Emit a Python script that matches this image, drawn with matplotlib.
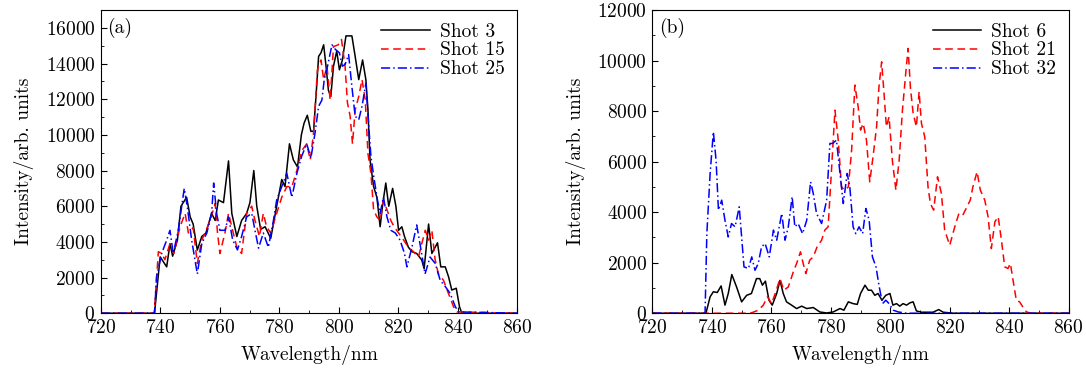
import matplotlib
matplotlib.use("Agg")
import matplotlib.pyplot as plt
from matplotlib.ticker import MultipleLocator

plt.rcParams["font.family"] = "serif"
plt.rcParams["font.serif"] = ["cmr10", "DejaVu Serif"]
plt.rcParams["axes.formatter.use_mathtext"] = True
plt.rcParams["mathtext.fontset"] = "cm"

# ---- panel (a) ----
wl_a3 = [720, 738, 739.9, 742.1, 743.2, 744.1, 745.7, 746.9, 748.8, 750, 751, 752.4, 753.9, 755.3,
         757.2, 758.4, 759.5, 761.2, 762.9, 764, 765.7, 767.3, 769, 770.1, 771.4, 772.4, 773.7,
         775.2, 777.1, 779.1, 780.8, 781.9, 783.4, 784.7, 786.1, 787.4, 788.3, 789.4, 790.6, 791.5,
         792.4, 793.2, 794, 794.9, 795.7, 796.5, 797.3, 798.2, 799.3, 800.2, 801.2, 802.4, 804.4,
         805.5, 806.7, 808, 809.1, 809.8, 810.5, 811.7, 812.8, 813.9, 814.8, 815.8, 816.8, 818.1,
         819.2, 820.1, 821.2, 822.1, 823.4, 824.6, 826.2, 827.9, 828.7, 830.2, 831.3, 833.2, 834.3,
         835.8, 836.9, 838, 839.5, 840.6, 841.4, 860]
shot3 = [0, 0, 3160, 2600, 3900, 3200, 4100, 6000, 6500, 5400, 5000, 3540, 4300, 4500,
         5600, 5200, 6350, 6200, 8540, 5600, 4300, 5200, 5600, 6200, 8000, 6000, 4700,
         4850, 4200, 6000, 7500, 7100, 9500, 8600, 8200, 10000, 10650, 11100, 10200, 10200,
         12350, 14400, 14600, 15050, 13850, 12500, 12150, 13850, 14700, 13650, 14200, 15550, 15550,
         14400, 13100, 14200, 13100, 11400, 8600, 7100, 6500, 4850, 6150, 7300, 6000, 7000,
         6000, 4650, 4850, 4300, 3700, 3450, 3350, 2980, 2500, 5000, 3350, 3950, 2600,
         2600, 2050, 1300, 1400, 360, 0, 0]

wl_a15 = [720, 737.9, 739.3, 740.4, 741.5, 743.2, 744.5, 746.6, 748.3, 749.4, 751, 752.4, 753.9,
          755, 756.7, 758.4, 759.2, 760, 761.7, 762.9, 764.5, 765.7, 767.3, 769, 770.7, 771.8,
          773.3, 774.6, 775.7, 777.1, 779.1, 780.8, 782.5, 784.2, 785.9, 787.5, 789.2, 790.4,
          791.5, 792.8, 794, 794.9, 796, 797.1, 798.2, 799.8, 800.9, 802.1, 802.9, 803.8, 804.6,
          805.5, 806.7, 807.8, 808.9, 809.8, 810.8, 811.7, 812.8, 813.9, 815, 816.2, 817.5,
          818.6, 820.1, 821.8, 823.4, 825.1, 826.8, 827.9, 829.1, 830.2, 831.3, 832.4, 833.5,
          835.2, 836.9, 838.6, 839.7, 860]
shot15 = [0, 0, 3450, 3350, 3000, 3900, 3350, 4850, 5600, 4500, 4800, 2800, 4100,
          4500, 5200, 6150, 4500, 3350, 4500, 5600, 4500, 3700, 3350, 5600, 6000, 5200,
          4300, 5600, 4850, 4500, 5600, 6500, 7100, 7100, 8000, 9100, 9500, 8600,
          10100, 13650, 14200, 13100, 13850, 11950, 14950, 15050, 15350, 13850, 11800, 11050, 9500,
          11400, 12150, 13100, 11950, 8950, 7850, 5800, 5400, 5200, 6350, 5800, 5200,
          4850, 4500, 4100, 3700, 3450, 3150, 3900, 4650, 4100, 4650, 3000, 2200,
          1850, 1100, 360, 75, 0]

wl_a25 = [720, 738, 738.7, 740.4, 742.1, 743.2, 744.3, 746, 748, 749, 750.5, 752.4, 753.9, 755.6,
          757.2, 757.9, 758.9, 760, 761.7, 762.9, 764.3, 765.9, 767.3, 769, 770.7, 771.8, 773,
          774.6, 776.3, 778, 779.1, 780.8, 782.5, 784.2, 785.9, 787.5, 789.2, 790.6, 792, 793.2,
          794.3, 795.1, 796.2, 797.7, 798.8, 800.2, 801.2, 802.1, 803.3, 804.4, 805.5, 806.7,
          807.8, 809.1, 810, 810.8, 811.9, 813, 813.9, 815, 816.2, 817.5, 819, 820.6, 822.1,
          822.9, 824.6, 826.2, 827.3, 829, 830.7, 832.4, 834.1, 835.8, 837.5, 839.2, 840.3, 860]
shot25 = [0, 0, 2050, 3350, 4100, 4650, 3350, 4650, 7000, 6000, 4100, 2200, 3900, 4500,
          5600, 7300, 5600, 4650, 4650, 5400, 4100, 3550, 4300, 5400, 5600, 4650, 3650,
          4500, 3700, 5200, 6350, 7100, 7850, 6500, 7850, 8800, 9500, 8700, 10100, 11600,
          11950, 13100, 13850, 15050, 14800, 14600, 13850, 13950, 14500, 12700, 11050, 10850,
          11600, 12900, 10650, 8800, 7500, 6350, 5600, 6500, 5400, 4650, 4500, 4100, 3350,
          2600, 3700, 4950, 3900, 2200, 3150, 2800, 1850, 1500, 1100, 360, 75, 0]

# ---- panel (b) ----
wl_b6 = [720, 738, 739.4, 740.5, 741.8, 743.1, 744.4, 745.5, 746.7, 748.3, 750, 751.7, 753.3, 755,
         756.1, 757, 758, 759.2, 760.3, 761.8, 762.9, 764, 765.1, 766.8, 768.5, 770.2, 771.9,
         774.1, 776.3, 778.6, 780.8, 783.1, 784.4, 785.9, 787.5, 788.9, 790, 791.5, 792.6, 793.7,
         794.8, 795.9, 797.2, 798.5, 799.9, 800.9, 802.1, 803.2, 804.3, 805.5, 806.6, 807.7,
         808.8, 810.5, 813.3, 814.4, 816.3, 817.8, 821.2, 860]
shot6 = [0, 0, 650, 850, 820, 1080, 320, 780, 1530, 1040, 450, 710, 780, 1370,
         1370, 1110, 1270, 515, 320, 780, 1300, 780, 450, 320, 185, 280, 185,
         225, 50, 10, 50, 185, 120, 450, 380, 350, 780, 1110, 910, 910,
         710, 780, 515, 710, 780, 320, 380, 280, 380, 320, 410, 450,
         90, 40, 40, 40, 145, 40, 0, 0]

wl_b21 = [720, 752.8, 753.9, 755.6, 757.3, 758.7, 760.1, 761.5, 762.9, 764.2, 765.7, 767.4, 768.5,
          769.8, 770.7, 771.6, 772.9, 774.1, 775.4, 776.9, 778, 779.1, 780.3, 781.4, 782.5, 783.6,
          784.7, 785.9, 787, 788.1, 789.2, 790, 790.9, 792, 793.1, 794.2, 795.4, 796.2, 797.1,
          797.9, 798.7, 799.6, 800.7, 801.9, 803, 804.1, 805.2, 806, 806.8, 807.7, 808.8, 809.7,
          810.5, 811.6, 812.7, 813.5, 814.6, 815.9, 817.2, 818.3, 820, 821.7, 823.1, 824.4, 825.8,
          826.9, 827.8, 829.2, 830.3, 831.8, 832.9, 834, 835.2, 836.3, 837.4, 838.5, 839.6, 840.4,
          841.3, 842.4, 843.5, 844.6, 845.8, 847.5, 860]
shot21 = [0, 0, 40, 120, 320, 650, 380, 850, 1370, 910, 1040, 1640, 1970,
          2430, 1970, 1570, 2100, 2230, 2630, 2890, 3290, 3420, 5800, 8040, 6850, 5000,
          4870, 5000, 6450, 9030, 8170, 7250, 7510, 6850, 5200, 6190, 7380, 8960, 9950,
          8700, 7380, 7770, 6060, 4870, 6060, 8040, 9490, 10480, 8900, 7910, 7380, 8770,
          7510, 6980, 5000, 4340, 4080, 5400, 4740, 3290, 2690, 3420, 3950, 3880, 4210,
          4475, 5000, 5600, 4870, 4475, 3820, 2560, 3620, 3820, 2890, 1835, 1770, 1970,
          1310, 515, 450, 250, 50, 0, 0]

wl_b32 = [720, 737.7, 738.3, 739.4, 740.5, 741.4, 742.2, 743.3, 744.4, 745.5, 746.6, 747.8, 749.2,
          750, 750.8, 752.3, 753.4, 754.5, 755.6, 756.7, 757.9, 759.3, 760.7, 761.8, 763.5, 764.6,
          765.7, 767, 767.9, 769, 770.5, 771.9, 773.2, 774.1, 775.2, 776.9, 778.6, 779.7, 780.6,
          781.9, 783.1, 784.2, 785.5, 786.4, 787.5, 788.4, 789.5, 790.7, 791.8, 792.9, 794, 795.2,
          796.3, 797.4, 798.5, 799.6, 801, 802.7, 805.5, 860]
shot32 = [0, 0, 3150, 5530, 7180, 6060, 4080, 4475, 3680, 3020, 3550, 3420, 4210,
          3020, 1835, 1770, 2230, 1700, 1970, 2630, 2760, 2230, 3290, 2890, 3950, 2890,
          3420, 4610, 3420, 3550, 3150, 3680, 5200, 4740, 3950, 3550, 4475, 6720, 6720,
          6850, 5530, 4340, 5530, 5000, 3420, 3150, 3420, 3150, 4145, 3680, 2230, 1835,
          1040, 380, 515, 380, 120, 50, 0, 0]

fig, (ax1, ax2) = plt.subplots(1, 2, figsize=(10.86, 3.72), dpi=100)
fig.subplots_adjust(left=0.093, right=0.984, top=0.973, bottom=0.158, wspace=0.325)

lw = 1.1
fs = 14
ax1.plot(wl_a3, shot3, color="black", lw=lw, ls="-", label="Shot 3")
ax1.plot(wl_a15, shot15, color="red", lw=lw, ls=(0, (5, 3)), label="Shot 15")
ax1.plot(wl_a25, shot25, color="blue", lw=lw, ls=(0, (6, 2, 1, 2)), label="Shot 25")
ax1.set_ylim(0, 17000)
ax1.yaxis.set_major_locator(MultipleLocator(2000))
ax1.yaxis.set_minor_locator(MultipleLocator(1000))

ax2.plot(wl_b6, shot6, color="black", lw=lw, ls="-", label="Shot 6")
ax2.plot(wl_b21, shot21, color="red", lw=lw, ls=(0, (5, 3)), label="Shot 21")
ax2.plot(wl_b32, shot32, color="blue", lw=lw, ls=(0, (6, 2, 1, 2)), label="Shot 32")
ax2.set_ylim(0, 12000)
ax2.yaxis.set_major_locator(MultipleLocator(2000))
ax2.yaxis.set_minor_locator(MultipleLocator(1000))

for ax, tag in ((ax1, "(a)"), (ax2, "(b)")):
    ax.set_xlim(720, 860)
    ax.xaxis.set_major_locator(MultipleLocator(20))
    ax.xaxis.set_minor_locator(MultipleLocator(10))
    ax.tick_params(which="both", direction="in", top=False, right=False, labelsize=fs, pad=4)
    ax.tick_params(which="major", length=4)
    ax.tick_params(which="minor", length=2.5)
    ax.set_xlabel("Wavelength/nm", fontsize=fs, labelpad=6)
    ax.set_ylabel("Intensity/arb. units", fontsize=fs, labelpad=8)
    ax.text(0.015, 0.975, tag, transform=ax.transAxes, fontsize=fs, va="top", ha="left")
    ax.legend(loc="upper right", frameon=False, fontsize=fs, handlelength=2.5,
              handletextpad=0.5, labelspacing=0.05, borderaxespad=0.25)

fig.savefig("out.png", dpi=100)
